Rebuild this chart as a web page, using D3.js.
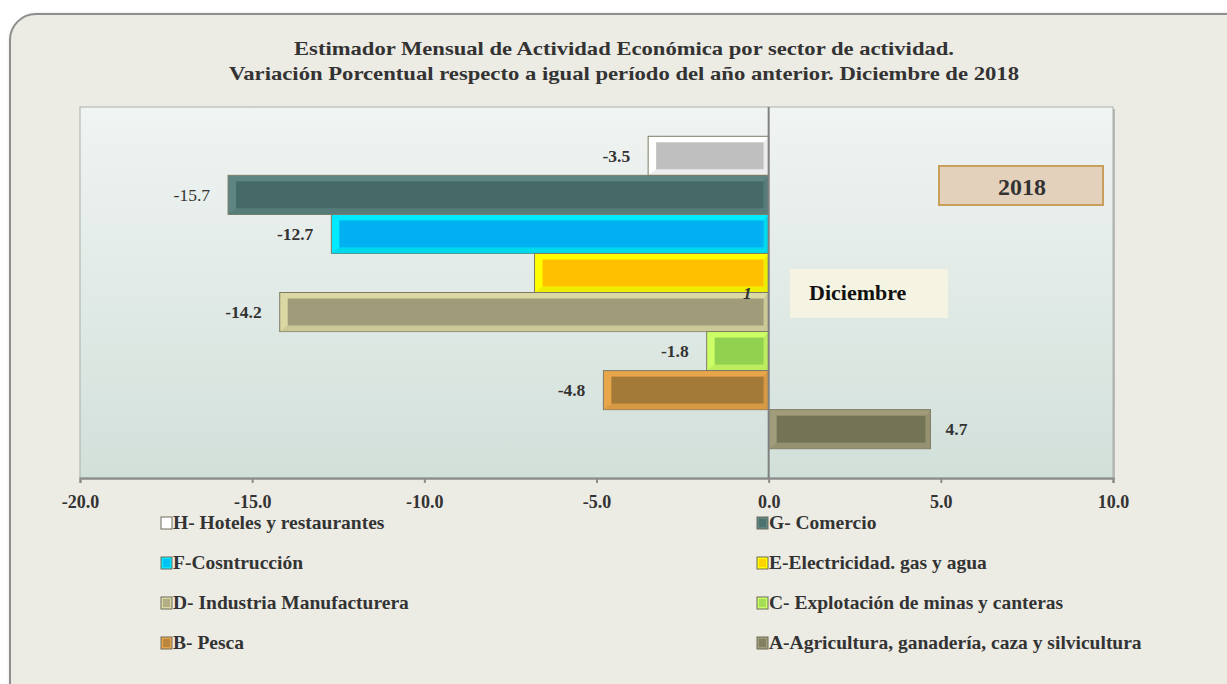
<!DOCTYPE html>
<html>
<head>
<meta charset="utf-8">
<script src="https://cdn.jsdelivr.net/npm/d3@7"></script>
<style>
  body { margin: 0; background: #ffffff; }
  svg text { font-family: "Liberation Serif", "DejaVu Serif", serif; }
</style>
</head>
<body>
<div id="chart"></div>
<script>
// sectors, top to bottom as drawn
const categories = [
    "H- Hoteles y restaurantes",
    "G- Comercio",
    "F-Cosntrucción",
    "E-Electricidad. gas y agua",
    "D- Industria Manufacturera",
    "C- Explotación de minas y canteras",
    "B- Pesca",
    "A-Agricultura, ganadería, caza y silvicultura"
];
const values = [-3.5, -15.7, -12.7, -6.8, -14.2, -1.8, -4.8, 4.7];
// text shown next to each bar (the E bar only carries a stray "1")
const valueLabels = ["-3.5", "-15.7", "-12.7", "1", "-14.2", "-1.8", "-4.8", "4.7"];
const fillColors = ["#bfbfbf", "#466a67", "#00b0f0", "#ffc000", "#a09b78", "#92d050", "#a47a38", "#737356"];
const bevelColors = ["#ffffff", "#5e8582", "#00eaff", "#ffff00", "#dcd8a4", "#ccff66", "#e8a54a", "#a19d7a"];
const xTicks = [-20, -15, -10, -5, 0, 5, 10];
const titleLines = [
    "Estimador Mensual de Actividad Económica por sector de actividad.",
    "Variación Porcentual respecto a igual período del año anterior. Diciembre de 2018"
];

const W = 1227, H = 684;
const plot = { left: 80, right: 1113, top: 107, bottom: 478 };

const svg = d3.select("#chart").append("svg")
    .attr("width", W)
    .attr("height", H);

const defs = svg.append("defs");
const grad = defs.append("linearGradient")
    .attr("id", "plotGrad")
    .attr("x1", 0).attr("y1", 0).attr("x2", 0).attr("y2", 1);
grad.append("stop").attr("offset", "0%").attr("stop-color", "#f0f4f2");
grad.append("stop").attr("offset", "100%").attr("stop-color", "#d2e0da");

const shadow = defs.append("filter").attr("id", "cardShadow")
    .attr("x", "-5%").attr("y", "-5%").attr("width", "110%").attr("height", "110%");
shadow.append("feDropShadow")
    .attr("dx", 2).attr("dy", 2).attr("stdDeviation", 2)
    .attr("flood-color", "#000").attr("flood-opacity", 0.35);

// outer card
svg.append("rect")
    .attr("x", 10).attr("y", 14)
    .attr("width", W + 30).attr("height", H + 30)
    .attr("rx", 26)
    .attr("fill", "#ecebe4")
    .attr("stroke", "#8e8e8e")
    .attr("stroke-width", 2)
    .attr("filter", "url(#cardShadow)");

// title
svg.selectAll(".title")
    .data(titleLines)
    .enter().append("text")
    .attr("class", "title")
    .attr("x", 624)
    .attr("y", (d, i) => 55 + i * 25)
    .attr("text-anchor", "middle")
    .attr("font-size", 19)
    .attr("font-weight", "bold")
    .attr("fill", "#333")
    .attr("textLength", (d, i) => i === 0 ? 660 : 790)
    .attr("lengthAdjust", "spacingAndGlyphs")
    .text(d => d);

// plot area with shadow on right and bottom
svg.append("rect")
    .attr("x", plot.left + 2).attr("y", plot.top + 2)
    .attr("width", plot.right - plot.left).attr("height", plot.bottom - plot.top)
    .attr("fill", "#9a9a9a").attr("opacity", 0.6);
svg.append("rect")
    .attr("x", plot.left).attr("y", plot.top)
    .attr("width", plot.right - plot.left).attr("height", plot.bottom - plot.top)
    .attr("fill", "url(#plotGrad)")
    .attr("stroke", "#a8b0ac").attr("stroke-width", 1);

const x = d3.scaleLinear()
    .domain([-20, 10])
    .range([plot.left, plot.right]);

const y = d3.scaleBand()
    .domain(categories)
    .range([plot.top, plot.bottom])
    .paddingInner(0)
    .paddingOuter(0.75);

// axis
const xAxis = d3.axisBottom(x)
    .tickValues(xTicks)
    .tickSize(5)
    .tickFormat(d => d.toFixed(1));

const axisG = svg.append("g")
    .attr("class", "x-axis axis")
    .attr("transform", `translate(0,${plot.bottom})`)
    .call(xAxis);
axisG.select(".domain").attr("stroke", "#8c8c8c").attr("stroke-width", 2);
axisG.selectAll(".tick line").attr("stroke", "#8c8c8c").attr("stroke-width", 2);
axisG.selectAll(".tick text")
    .attr("y", 17)
    .attr("font-size", 18)
    .attr("font-weight", "bold")
    .attr("font-family", "Liberation Serif, serif")
    .attr("fill", "#333");

// bars with bevel
const rows = categories.map((c, i) => ({
    cat: c, value: values[i], label: valueLabels[i],
    fill: fillColors[i], bevel: bevelColors[i]
}));

const barG = svg.selectAll(".bar")
    .data(rows)
    .enter().append("g")
    .attr("class", "bar");

barG.append("rect")
    .attr("x", d => x(Math.min(0, d.value)))
    .attr("y", d => y(d.cat))
    .attr("width", d => Math.abs(x(d.value) - x(0)))
    .attr("height", y.bandwidth())
    .attr("fill", d => d.bevel)
    .attr("stroke", "#7d7b66")
    .attr("stroke-width", 1);

// darker lower/right bevel edge
barG.append("path")
    .attr("d", d => {
        const x0 = x(Math.min(0, d.value)), x1 = x(Math.max(0, d.value));
        const y0 = y(d.cat), y1 = y0 + y.bandwidth();
        return `M${x1},${y0} L${x1},${y1} L${x0},${y1} L${x0 + 8},${y1 - 6} L${x1 - 5},${y1 - 6} L${x1 - 5},${y0 + 6} Z`;
    })
    .attr("fill", d => d3.color(d.bevel).darker(0.3))
    .attr("opacity", 0.7);

barG.append("rect")
    .attr("x", d => x(Math.min(0, d.value)) + 8)
    .attr("y", d => y(d.cat) + 6)
    .attr("width", d => Math.abs(x(d.value) - x(0)) - 13)
    .attr("height", y.bandwidth() - 12)
    .attr("fill", d => d.fill);

// zero line
svg.append("line")
    .attr("x1", x(0)).attr("x2", x(0))
    .attr("y1", plot.top).attr("y2", plot.bottom)
    .attr("stroke", "#808080").attr("stroke-width", 2);

// value labels
svg.selectAll(".value-label")
    .data(rows)
    .enter().append("text")
    .attr("class", "value-label")
    .attr("x", d => {
        if (d.label === "1") return x(0) - 17;
        return d.value < 0 ? x(d.value) - 18 : x(d.value) + 15;
    })
    .attr("y", d => d.label === "1" ? y(d.cat) + y.bandwidth() + 6 : y(d.cat) + y.bandwidth() / 2 + 6)
    .attr("text-anchor", d => d.value < 0 ? "end" : "start")
    .attr("font-size", 17.5)
    .attr("font-weight", d => d.label === "-15.7" ? "normal" : "bold")
    .attr("font-style", d => d.label === "1" ? "italic" : "normal")
    .attr("fill", "#333")
    .text(d => d.label);

// "2018" box
svg.append("rect")
    .attr("x", 939).attr("y", 166)
    .attr("width", 164).attr("height", 39)
    .attr("fill", "#e4d1bc")
    .attr("stroke", "#c99f5e").attr("stroke-width", 2);
svg.append("text")
    .attr("x", 1022).attr("y", 195)
    .attr("text-anchor", "middle")
    .attr("font-size", 24).attr("font-weight", "bold")
    .attr("fill", "#333")
    .text("2018");

// "Diciembre" box
svg.append("rect")
    .attr("x", 790).attr("y", 269)
    .attr("width", 158).attr("height", 49)
    .attr("fill", "#f5f4e3");
svg.append("text")
    .attr("x", 809).attr("y", 300)
    .attr("font-size", 22).attr("font-weight", "bold")
    .attr("fill", "#111")
    .text("Diciembre");

// legend, two columns
const legend = svg.selectAll(".legend")
    .data(rows)
    .enter().append("g")
    .attr("class", "legend")
    .attr("transform", (d, i) => `translate(${i % 2 === 0 ? 161 : 757},${517 + Math.floor(i / 2) * 40})`);

legend.append("rect")
    .attr("x", 0).attr("y", 0)
    .attr("width", 11).attr("height", 12)
    .attr("fill", d => d.bevel)
    .attr("stroke", "#6e6c5a").attr("stroke-width", 1);
legend.append("rect")
    .attr("x", 2).attr("y", 2)
    .attr("width", 7).attr("height", 8)
    .attr("fill", d => d.label === "-3.5" ? "#ffffff" : d.fill)
    .attr("opacity", 0.7);
legend.append("text")
    .attr("x", 12).attr("y", 12)
    .attr("font-size", 19.5).attr("font-weight", "bold")
    .attr("fill", "#333")
    .text(d => d.cat);
</script>
</body>
</html>
